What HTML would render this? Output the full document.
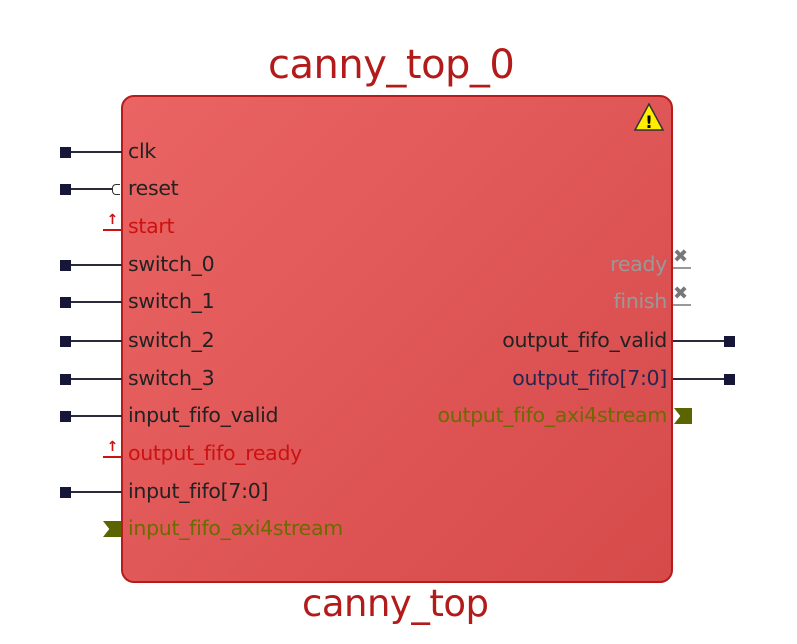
<!DOCTYPE html>
<html><head><meta charset="utf-8"><style>
body{margin:0;width:797px;height:644px;background:#fff;overflow:hidden;font-family:"DejaVu Sans","Liberation Sans",sans-serif;position:relative}
.t{position:absolute;font-size:40px;color:#b31b1b;font-family:"DejaVu Sans",sans-serif;letter-spacing:-0.5px}
#blk{position:absolute;left:121px;top:95px;width:548px;height:484px;border:2.5px solid #b51c1c;border-radius:13px;background:linear-gradient(135deg,#ea6464,#d64a4a)}
.p{position:absolute;font-size:20.5px;line-height:22px;white-space:nowrap;letter-spacing:-0.3px}
.l{left:128px}.r{right:130px;text-align:right}
.ln{position:absolute;height:2px;background:#2a2a3a}
.sq{position:absolute;width:11px;height:11px;background:#161638}
</style></head><body>
<div class="t" style="left:268px;top:42px">canny_top_0</div>
<div id="blk"></div>
<div class="t" style="left:302px;top:582px;font-size:37px">canny_top</div>
<svg style="position:absolute;left:633px;top:102px" width="32" height="30"><polygon points="16,2 30,28 2,28" fill="#ffee00" stroke="#333" stroke-width="1.5"/><text x="16" y="26" font-size="17" font-weight="bold" text-anchor="middle" font-family="DejaVu Sans">!</text></svg>
<div id="ports"></div>
<script>
const ports=[
["clk","l","#222","sq",152],["reset","l","#222","inv",189],["start","l","#cc1111","up",227],
["switch_0","l","#222","sq",265],["switch_1","l","#222","sq",302],["switch_2","l","#222","sq",341],
["switch_3","l","#222","sq",379],["input_fifo_valid","l","#222","sq",416],["output_fifo_ready","l","#cc1111","up",454],
["input_fifo[7:0]","l","#222","sq",492],["input_fifo_axi4stream","l","#6b6b00","bus",529],
["ready","r","#999","x",265],["finish","r","#999","x",302],["output_fifo_valid","r","#222","sq",341],
["output_fifo[7:0]","r","#2a2450","sq",379],["output_fifo_axi4stream","r","#6b6b00","bus",416]];
const c=document.getElementById('ports');
ports.forEach(p=>{
 const d=document.createElement('div');d.className='p '+p[1];d.textContent=p[0];d.style.color=p[2];d.style.top=(p[4]-12)+'px';
 
 
 c.appendChild(d);
 const L=p[1]=='l';
 if(p[3]=='sq'||p[3]=='inv'){
  const ln=document.createElement('div');ln.className='ln';ln.style.top=(p[4]-1)+'px';
  ln.style.left=(L?65:673)+'px';ln.style.width=(p[3]=='inv'?47:57)+'px';
  
  
  c.appendChild(ln);
  const s=document.createElement('div');s.className='sq';s.style.top=(p[4]-5)+'px';s.style.left=(L?60:724)+'px';
  
  
  c.appendChild(s);
  if(p[3]=='inv'){const b=document.createElement('div');b.style.cssText='position:absolute;left:112px;top:'+(p[4]-5)+'px;width:7px;height:9px;border:1.5px solid #333;border-right:none;border-radius:4px 0 0 4px';
  
  
  c.appendChild(b);}
 } else if(p[3]=='up'){
  const u=document.createElement('div');u.style.cssText='position:absolute;left:103px;top:'+(p[4]-14)+'px;width:19px;height:16px;color:#cc1111;font-size:14px;font-weight:bold;line-height:14px;border-bottom:2px solid #cc1111;text-align:center';u.textContent='↑';
  
  
  c.appendChild(u);
 } else if(p[3]=='bus'){
  const b=document.createElement('div');b.style.cssText='position:absolute;top:'+(p[4]-8)+'px;left:'+(L?103:674)+'px;width:18px;height:16px;background:#5a6400;clip-path:polygon(0 0,100% 0,100% 100%,0 100%,35% 50%)';
  
  
  c.appendChild(b);
 } else {
  const x=document.createElement('div');x.style.cssText='position:absolute;left:673px;top:'+(p[4]-16)+'px;width:18px;height:18px;color:#777;font-size:18px;font-weight:bold;line-height:16px;border-bottom:2px solid #999';x.textContent='✖';
  
  
  c.appendChild(x);
 }
});
</script>
</body></html>
